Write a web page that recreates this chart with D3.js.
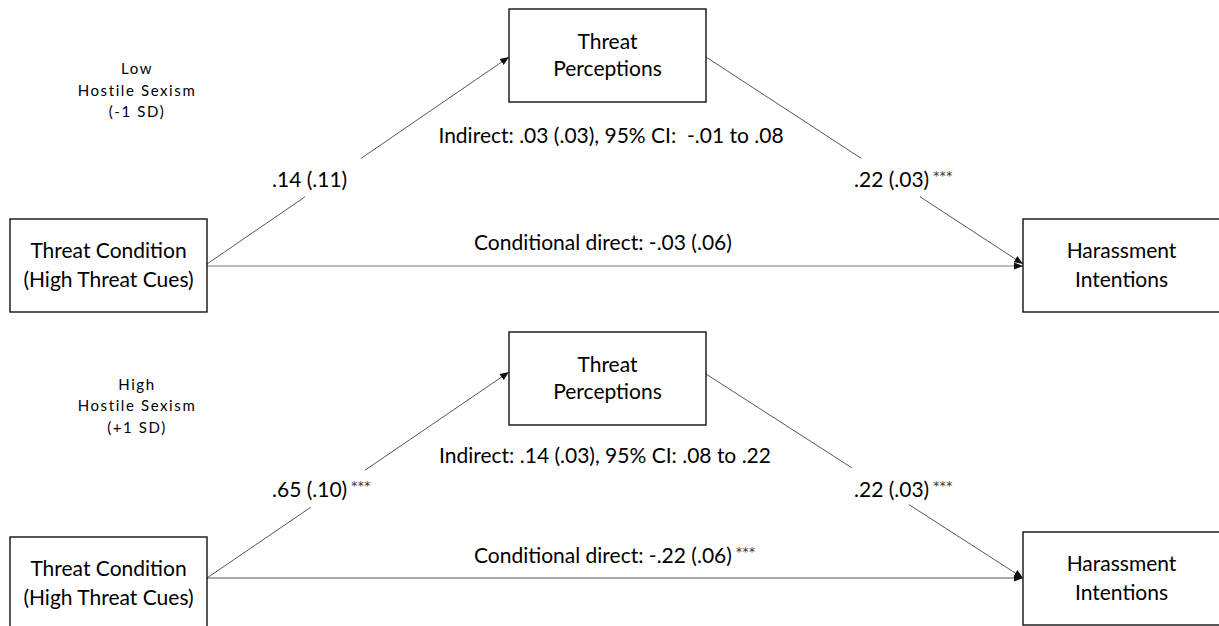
<!DOCTYPE html>
<html>
<head>
<meta charset="utf-8">
<script src="https://cdn.jsdelivr.net/npm/d3@7"></script>
<style>
  body { margin: 0; background: #fff; }
  text { font-family: Lato, "Open Sans", sans-serif; fill: #000; }
</style>
</head>
<body>
<svg id="chart" width="1219" height="626"></svg>
<script>
// ---- data ----
const nodeX = ["Threat Condition", "(High Threat Cues)"];
const nodeM = ["Threat", "Perceptions"];
const nodeY = ["Harassment", "Intentions"];

const moderatorLabels = [
    ["Low", "Hostile Sexism", "(-1 SD)"],
    ["High", "Hostile Sexism", "(+1 SD)"]
];
const aPathCoef = [".14 (.11)", ".65 (.10)"];
const aPathSig = ["", "***"];
const bPathCoef = [".22 (.03)", ".22 (.03)"];
const bPathSig = ["***", "***"];
const indirectText = ["Indirect: .03 (.03), 95% CI:  -.01 to .08", "Indirect: .14 (.03), 95% CI: .08 to .22"];
const directText = ["Conditional direct: -.03 (.06)", "Conditional direct: -.22 (.06)"];
const directSig = ["", "***"];

// ---- layout ----
const svg = d3.select("#chart");
const boxW = 197, boxH = 93;
const mainFont = "21px";
const col = d3.scaleOrdinal().domain(["X", "M", "Y"]).range([10, 509, 1023]);

// per panel vertical placement
const panelGeo = [
    {mTop: 9, xTop: 219, yTop: 219, direct: 266, aStart: 264, aEnd: 57, bStart: 57, bEnd: 264,
     aGap: [0.325, 0.51], bGap: [0.49, 0.675], coefBase: 187, indBase: 143, indX: 611, dirBase: 250,
     modBase: [74, 96, 117], directColor: "#a6a6a6", directWidth: 1.6},
    {mTop: 332, xTop: 537, yTop: 532, direct: 578, aStart: 578, aEnd: 372, bStart: 374, bEnd: 578,
     aGap: [0.344, 0.523], bGap: [0.46, 0.64], coefBase: 497, indBase: 463, indX: 605, dirBase: 563,
     modBase: [390, 411, 433], directColor: "#555", directWidth: 1.1}
];

const defs = svg.append("defs");
defs.append("marker")
    .attr("id", "arrow")
    .attr("viewBox", "0 0 10 10")
    .attr("refX", 10).attr("refY", 5)
    .attr("markerWidth", 9).attr("markerHeight", 9)
    .attr("markerUnits", "userSpaceOnUse")
    .attr("orient", "auto")
    .append("path")
    .attr("d", "M0,1 L10,5 L0,9 Z")
    .attr("fill", "#111");

function drawBox(g, x, y, lines, base1, base2) {
    g.append("rect")
        .attr("x", x).attr("y", y)
        .attr("width", boxW).attr("height", boxH)
        .attr("fill", "#fff")
        .attr("stroke", "#111")
        .attr("stroke-width", 1.4);
    g.append("text").attr("x", x + boxW / 2).attr("y", y + base1)
        .attr("text-anchor", "middle").style("font-size", mainFont).text(lines[0]);
    g.append("text").attr("x", x + boxW / 2).attr("y", y + base2)
        .attr("text-anchor", "middle").style("font-size", mainFont).text(lines[1]);
}

function brokenLine(g, x1, y1, x2, y2, gap, arrow) {
    const ix = d3.interpolateNumber(x1, x2), iy = d3.interpolateNumber(y1, y2);
    g.append("line")
        .attr("x1", x1).attr("y1", y1).attr("x2", ix(gap[0])).attr("y2", iy(gap[0]))
        .attr("stroke", "#444").attr("stroke-width", 0.9);
    g.append("line")
        .attr("x1", ix(gap[1])).attr("y1", iy(gap[1])).attr("x2", x2).attr("y2", y2)
        .attr("stroke", "#444").attr("stroke-width", 0.9)
        .attr("marker-end", arrow ? "url(#arrow)" : null);
}

function addStars(t, sig) {
    if (!sig) return;
    t.append("tspan").attr("dx", 4).attr("dy", -7)
        .style("font-family", "'DejaVu Sans', sans-serif")
        .style("font-size", "12px")
        .style("letter-spacing", "0.5px")
        .style("fill", "#333").text(sig);
}

panelGeo.forEach(function (p, i) {
    const g = svg.append("g");

    // moderator label
    moderatorLabels[i].forEach(function (s, k) {
        g.append("text")
            .attr("x", 137).attr("y", p.modBase[k])
            .attr("text-anchor", "middle")
            .style("font-size", "15px")
            .style("letter-spacing", "1.6px")
            .text(s);
    });

    // paths
    const xRight = col("X") + boxW, mLeft = col("M"), mRight = col("M") + boxW, yLeft = col("Y");
    brokenLine(g, xRight, p.aStart, mLeft, p.aEnd, p.aGap, true);
    brokenLine(g, mRight, p.bStart, yLeft, p.bEnd, p.bGap, true);

    g.append("line")
        .attr("x1", xRight).attr("y1", p.direct)
        .attr("x2", yLeft).attr("y2", p.direct)
        .attr("stroke", p.directColor)
        .attr("stroke-width", p.directWidth)
        .attr("marker-end", "url(#arrow)");

    // boxes
    drawBox(g, col("X"), p.xTop, nodeX, 39, 68);
    drawBox(g, col("M"), p.mTop, nodeM, 40, 67);
    drawBox(g, col("Y"), p.yTop, nodeY, 39, 68);

    // coefficients
    const al = g.append("text").attr("x", 272).attr("y", p.coefBase).style("font-size", mainFont);
    al.append("tspan").text(aPathCoef[i]);
    addStars(al, aPathSig[i]);

    const bl = g.append("text").attr("x", 854).attr("y", p.coefBase).style("font-size", mainFont);
    bl.append("tspan").text(bPathCoef[i]);
    addStars(bl, bPathSig[i]);

    g.append("text").attr("x", p.indX).attr("y", p.indBase)
        .attr("text-anchor", "middle").style("font-size", mainFont)
        .style("white-space", "pre").attr("xml:space", "preserve")
        .text(indirectText[i]);

    const dt = g.append("text").attr("x", 474).attr("y", p.dirBase).style("font-size", mainFont);
    dt.append("tspan").text(directText[i]);
    addStars(dt, directSig[i]);
});
</script>
</body>
</html>
